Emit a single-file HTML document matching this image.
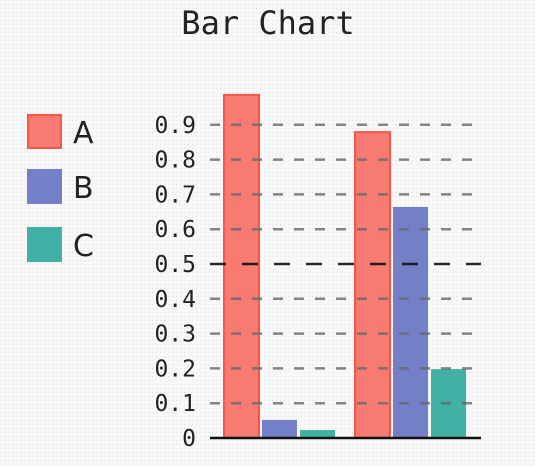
<!DOCTYPE html>
<html><head><style>
html,body{margin:0;padding:0;background:#f8f8f8}
svg{display:block;font-family:"DejaVu Sans Mono","Liberation Mono",monospace}
</style></head><body>
<svg width="535" height="466">
<defs><pattern id="dots" width="4" height="4" patternUnits="userSpaceOnUse"><rect width="4" height="4" fill="#f8f8f8"/><rect width="1" height="1" fill="#e2e2e2"/></pattern></defs>
<rect width="535" height="466" fill="url(#dots)"/>
<text x="268" y="34" text-anchor="middle" font-size="32" fill="#222">Bar Chart</text>
<g id="bars"></g><g id="grid"></g><g id="legend"></g>
</svg>
<script>
const categories=["1","2"];
const seriesNames=["A","B","C"];
const seriesA=[0.986,0.879];
const seriesB=[0.052,0.664];
const seriesC=[0.023,0.198];
const ticks=[0,0.1,0.2,0.3,0.4,0.5,0.6,0.7,0.8,0.9];
const tickLabels=["0","0.1","0.2","0.3","0.4","0.5","0.6","0.7","0.8","0.9"];
const NS="http://www.w3.org/2000/svg";
const fills=["#f87b72","#7380c8","#42b0a5"];
const strokes=["#f4564a","#7380c8","#42b0a5"];
const x0=210,x1=481;
function y(v){return 438-348*v;}
function el(t,a,p){const e=document.createElementNS(NS,t);for(const k in a)e.setAttribute(k,a[k]);p.appendChild(e);return e;}
const grid=document.getElementById('grid');
ticks.forEach((t,i)=>{
  const yy=y(t);
  let l;
  if(t===0){l=el('line',{x1:x0,x2:x1,y1:yy,y2:yy,stroke:'#111','stroke-width':2.5},grid);}
  else if(t===0.5){l=el('line',{x1:x0,x2:x1,y1:yy,y2:yy,stroke:'#111','stroke-width':2.5,'stroke-dasharray':'16,16','stroke-opacity':0.9},grid);}
  else{l=el('line',{x1:x0,x2:x1,y1:yy,y2:yy,stroke:'#666','stroke-width':2.5,'stroke-dasharray':'10,11','stroke-opacity':0.8},grid);}
  
  
  const tx=el('text',{x:196,y:yy+8,'text-anchor':'end','font-size':23,fill:'#222'},grid);
  tx.textContent=tickLabels[i];
  
  
});
const bars=document.getElementById('bars');
const series=[seriesA,seriesB,seriesC];
const groupW=131;
categories.forEach((c,ci)=>{
  const gx=224+ci*groupW;
  series.forEach((s,si)=>{
    const bx=gx+si*38,bw=35;
    const r=el('rect',{x:bx,y:y(s[ci]),width:bw,height:y(0)-y(s[ci]),fill:fills[si],stroke:si===0?strokes[si]:'none','stroke-width':2},bars);
    
    
  });
});
const lg=document.getElementById('legend');
seriesNames.forEach((n,i)=>{
  const yy=[115,170,228][i];
  const r=el('rect',{x:28,y:yy,width:33,height:33,fill:fills[i],stroke:strokes[i],'stroke-width':2},lg);
  
  
  const t=el('text',{x:73,y:yy+28,'font-size':30,fill:'#222','font-family':'"DejaVu Sans",sans-serif'},lg);
  t.textContent=n;
  
  
});
</script>
</body></html>
